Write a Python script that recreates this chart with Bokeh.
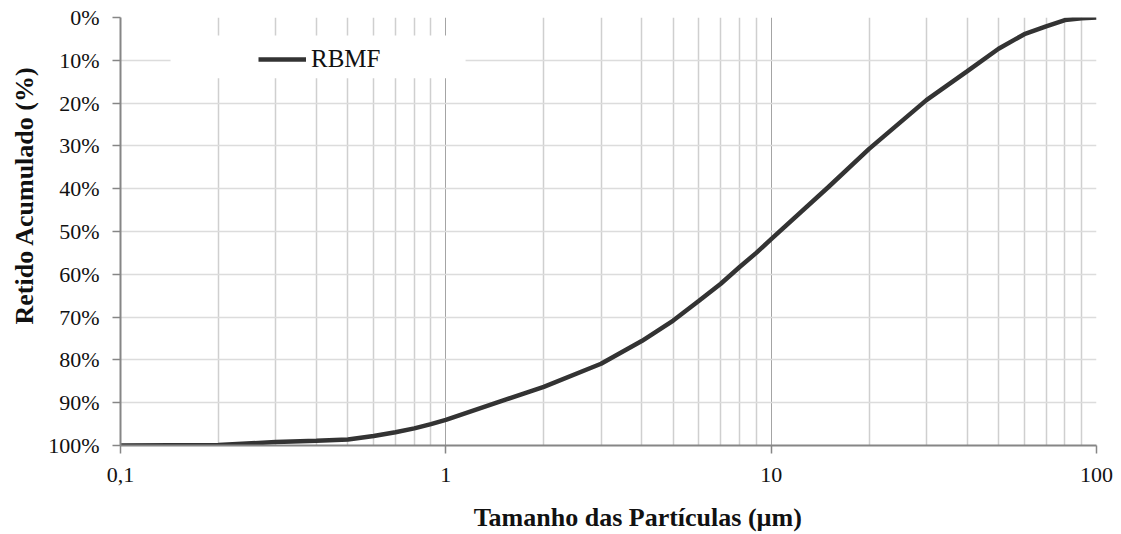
from bokeh.plotting import figure
from bokeh.models import (Range1d, FixedTicker, PrintfTickFormatter, Legend, LegendItem,
                          Title, BoxAnnotation)
from bokeh.embed import file_html
from bokeh.resources import INLINE

# ---- data ----
size_um = [0.1, 0.2, 0.3, 0.4, 0.5, 0.6, 0.7, 0.8, 0.9, 1, 2, 3, 4, 5, 6, 7, 8, 9,
           10, 15, 20, 30, 40, 50, 60, 70, 80, 90, 100]
retido = [100, 99.9, 99.2, 98.9, 98.6, 97.8, 96.9, 96.0, 95.0, 94.0, 86.3, 80.9, 75.6,
          70.8, 66.2, 62.2, 58.3, 55.0, 51.8, 39.6, 30.7, 19.3, 12.6, 7.3, 3.9, 2.1,
          0.6, 0.2, 0.0]
series_name = "RBMF"
x_major = [0.1, 1, 10, 100]
x_minor = [m * d for d in (0.1, 1, 10) for m in range(2, 10)]
x_labels = {0.1: "0,1", 1: "1", 10: "10", 100: "100"}
y_ticks = list(range(0, 101, 10))
x_title = "Tamanho das Partículas (µm)"
y_title = "Retido Acumulado (%)"

FONT = "Liberation Serif"
AX = "#868686"

p = figure(width=1121, height=534, x_axis_type="log", output_backend="svg",
           toolbar_location=None, x_range=Range1d(0.1, 100), y_range=Range1d(100, 0),
           min_border_left=120, min_border_top=17, min_border_right=25,
           min_border_bottom=88)
p.outline_line_color = None
p.background_fill_color = "white"

# grid
p.xaxis.ticker = FixedTicker(ticks=x_major, minor_ticks=x_minor)
p.yaxis.ticker = FixedTicker(ticks=y_ticks)
p.xgrid.grid_line_color = "#a4a4a4"
p.xgrid.grid_line_width = 1
p.xgrid.minor_grid_line_color = "#cfcfcf"
p.xgrid.minor_grid_line_width = 1.5
p.ygrid.grid_line_color = "#dcdcdc"
p.ygrid.grid_line_width = 1.5

# legend background mask (Excel-like white legend box)
mask = BoxAnnotation(left=0.1425, right=1.15, top=4.2, bottom=14.2,
                     fill_color="white", fill_alpha=1, line_color=None, level="underlay")
p.add_layout(mask)

r = p.line(size_um, retido, line_color="#333333", line_width=4.5)

# axes
for ax in (p.xaxis, p.yaxis):
    ax.axis_line_color = AX
    ax.axis_line_width = 2
    ax.major_tick_line_color = AX
    ax.major_tick_line_width = 1.5
    ax.major_tick_out = 8
    ax.major_tick_in = 0
    ax.minor_tick_line_color = None
    ax.major_label_text_font = FONT
    ax.major_label_text_font_size = "22px"
    ax.major_label_text_color = "#111111"

p.xaxis.major_label_overrides = x_labels
p.xaxis.major_label_standoff = 14
p.yaxis.formatter = PrintfTickFormatter(format="%d%%")
p.yaxis.major_label_standoff = 13

# leading no-break spaces shift the centred axis title right, as in the reference
p.xaxis.axis_label = "\u00a0" * 9 + x_title
p.xaxis.axis_label_text_font = FONT
p.xaxis.axis_label_text_font_size = "26px"
p.xaxis.axis_label_text_font_style = "bold"
p.xaxis.axis_label_text_color = "#111111"
p.xaxis.axis_label_standoff = 18

p.add_layout(Title(text=y_title, text_font=FONT, text_font_size="26px",
                   text_font_style="bold", text_color="#111111", align="left",
                   offset=121, standoff=14), "left")

legend = Legend(items=[LegendItem(label=series_name, renderers=[r])],
                location=(138, 372), orientation="vertical",
                glyph_width=48, glyph_height=20, label_standoff=5,
                label_text_font=FONT, label_text_font_size="25px",
                label_text_color="#111111", padding=6, spacing=0, margin=0,
                border_line_color=None, background_fill_alpha=0)
p.add_layout(legend)

open("out.html", "w").write(file_html(p, INLINE))
